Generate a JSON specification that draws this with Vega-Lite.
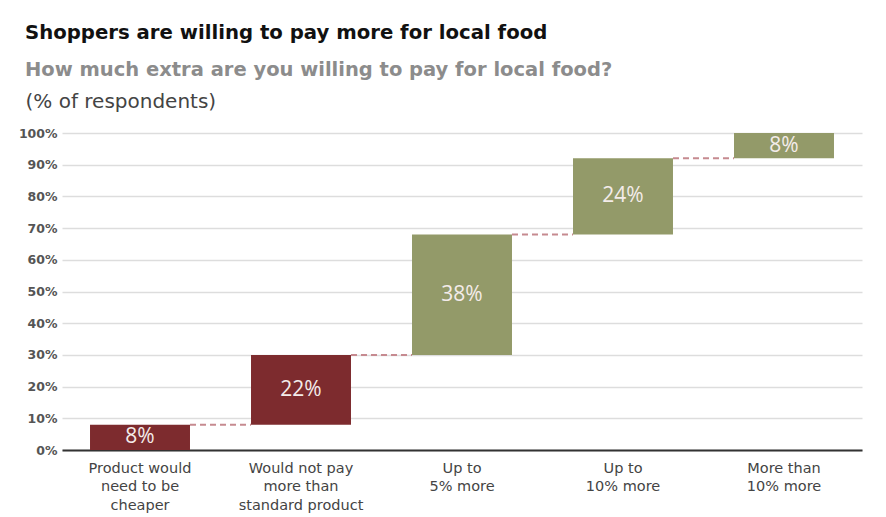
{
  "$schema": "https://vega.github.io/schema/vega-lite/v6.json",
  "width": 800,
  "height": 317,
  "autosize": {"type": "none"},
  "padding": {"left": 62, "top": 133, "right": 24, "bottom": 67},
  "background": "white",
  "config": {
    "font": "DejaVu Sans",
    "view": {"stroke": null}
  },
  "title": {
    "text": "Shoppers are willing to pay more for local food",
    "subtitle": "How much extra are you willing to pay for local food?",
    "anchor": "start",
    "frame": "group",
    "dx": -37,
    "offset": 12,
    "font": "DejaVu Sans",
    "fontSize": 19.7,
    "fontWeight": "bold",
    "color": "#111111",
    "subtitleFont": "DejaVu Sans",
    "subtitleFontSize": 19.5,
    "subtitleFontWeight": "bold",
    "subtitleColor": "#8c8c8c",
    "subtitlePadding": 18
  },
  "data": {
    "values": [
      {"cat": "Product would|need to be|cheaper", "start": 0, "end": 8, "label": "8%", "type": "neg", "next": "Would not pay|more than|standard product"},
      {"cat": "Would not pay|more than|standard product", "start": 8, "end": 30, "label": "22%", "type": "neg", "next": "Up to|5% more"},
      {"cat": "Up to|5% more", "start": 30, "end": 68, "label": "38%", "type": "pos", "next": "Up to|10% more"},
      {"cat": "Up to|10% more", "start": 68, "end": 92, "label": "24%", "type": "pos", "next": "More than|10% more"},
      {"cat": "More than|10% more", "start": 92, "end": 100, "label": "8%", "type": "pos", "next": null}
    ]
  },
  "encoding": {
    "x": {
      "field": "cat",
      "type": "nominal",
      "sort": null,
      "scale": {"paddingInner": 0.379, "paddingOuter": 0.174},
      "axis": {
        "title": null,
        "labelAngle": 0,
        "labelExpr": "split(datum.label, '|')",
        "labelFont": "DejaVu Sans",
        "labelFontSize": 14.5,
        "labelColor": "#444444",
        "labelLineHeight": 18.5,
        "labelPadding": 11,
        "labelBaseline": "top",
        "ticks": false,
        "domainColor": "#333333",
        "domainWidth": 2
      }
    },
    "y": {
      "field": "start",
      "type": "quantitative",
      "scale": {"domain": [0, 100], "nice": false},
      "axis": {
        "title": "(% of respondents)",
        "titleAngle": 0,
        "titleAlign": "left",
        "titleBaseline": "alphabetic",
        "titleX": -37,
        "titleY": -26,
        "titleFont": "DejaVu Sans",
        "titleFontSize": 20,
        "titleFontWeight": "normal",
        "titleColor": "#444444",
        "tickCount": 11,
        "labelOverlap": false,
        "labelBound": false,
        "labelExpr": "datum.value + '%'",
        "labelFont": "DejaVu Sans",
        "labelFontSize": 12.5,
        "labelFontWeight": "bold",
        "labelColor": "#555555",
        "labelPadding": 5,
        "ticks": false,
        "domain": false,
        "gridColor": "#dddddd",
        "gridWidth": 1.5
      }
    }
  },
  "layer": [
    {
      "mark": {"type": "rule", "strokeDash": [6, 4], "strokeWidth": 2, "color": "#c68a90"},
      "transform": [{"filter": "datum.next != null"}],
      "encoding": {
        "x": {"field": "cat", "type": "nominal", "bandPosition": 1},
        "x2": {"field": "next", "bandPosition": 0},
        "y": {"field": "end", "type": "quantitative"}
      }
    },
    {
      "mark": {"type": "bar"},
      "encoding": {
        "y2": {"field": "end"},
        "color": {
          "field": "type",
          "type": "nominal",
          "scale": {"domain": ["neg", "pos"], "range": ["#7d2b2e", "#939a69"]},
          "legend": null
        }
      }
    },
    {
      "transform": [{"calculate": "(datum.start + datum.end) / 2", "as": "mid"}],
      "mark": {"type": "text", "font": "Open Sans", "fontSize": 21, "color": "#f3ecea", "baseline": "middle"},
      "encoding": {
        "y": {"field": "mid", "type": "quantitative"},
        "text": {"field": "label"}
      }
    }
  ]
}
